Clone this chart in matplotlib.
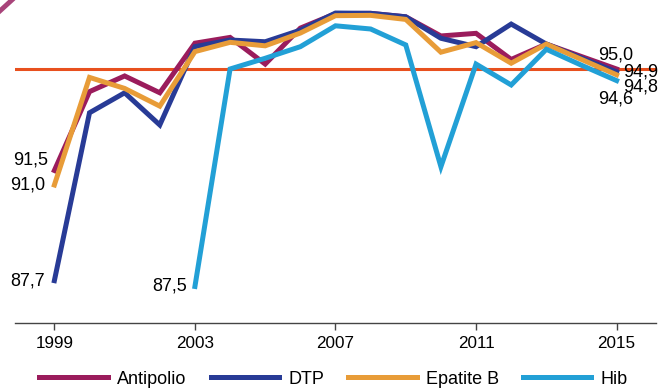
import numpy as np
import matplotlib.pyplot as plt
from matplotlib.lines import Line2D

plt.rcParams['font.family'] = ['Liberation Sans', 'DejaVu Sans']

years = np.arange(1999, 2016)
antipolio = [91.5, 94.22, 94.76, 94.18, 95.89, 96.09, 95.17, 96.41, 96.91, 96.92,
             96.8, 96.14, 96.23, 95.33, 95.86, 95.43, 95.0]
dtp = [87.7, 93.49, 94.18, 93.07, 95.77, 96.0, 95.94, 96.34, 96.93, 96.92,
       96.8, 96.06, 95.77, 96.55, 95.86, 95.38, 94.9]
epatite_b = [91.0, 94.71, 94.33, 93.72, 95.6, 95.92, 95.8, 96.24, 96.84, 96.85,
             96.71, 95.58, 95.91, 95.2, 95.86, 95.33, 94.8]
hib = [np.nan, np.nan, np.nan, np.nan, 87.5, 95.0, 95.37, 95.77, 96.49, 96.38,
       95.83, 91.63, 95.17, 94.45, 95.68, 95.13, 94.6]
target = 95

names = ['Antipolio', 'DTP', 'Epatite B', 'Hib']
colors = ['#9b1c5c', '#283b96', '#e89c38', '#22a0d6']
series = [antipolio, dtp, epatite_b, hib]

fig = plt.figure(figsize=(6.61, 3.88), dpi=100)
ax = fig.add_axes([0.0227, 0.1668, 0.9697, 0.8332])

ax.axhline(target, color='#e8501e', lw=2.2, zorder=1)

for name, col, vals in zip(names, colors, series):
    ax.plot(years, vals, color=col, lw=3.6, label=name, solid_joinstyle='miter', zorder=2)

ax.set_xlim(1997.88, 2016.12)
ax.set_ylim(86.23, 97.38)

for s in ['top', 'right', 'left']:
    ax.spines[s].set_visible(False)
ax.spines['bottom'].set_color('#444444')
ax.spines['bottom'].set_linewidth(1.0)
ax.set_yticks([])
ax.set_xticks([1999, 2003, 2007, 2011, 2015])
ax.tick_params(axis='x', length=5, width=1, color='#444444', labelsize=12.3, pad=4)

def fmt(v):
    return f'{v:.1f}'.replace('.', ',')

lab = dict(textcoords='offset points', va='center', fontsize=13, annotation_clip=False)

# start labels
ax.annotate(fmt(antipolio[0]), (years[0], antipolio[0]), xytext=(-4.3, 7.7), ha='right', **lab)
ax.annotate(fmt(epatite_b[0]), (years[0], epatite_b[0]), xytext=(-6.5, 0), ha='right', **lab)
ax.annotate(fmt(dtp[0]), (years[0], dtp[0]), xytext=(-7, 0), ha='right', **lab)
ax.annotate(fmt(hib[4]), (years[4], hib[4]), xytext=(-5.8, 0), ha='right', **lab)

# end labels
ax.annotate(fmt(antipolio[-1]), (years[-1], antipolio[-1]), xytext=(-13.4, 10), ha='left', **lab)
ax.annotate(fmt(dtp[-1]), (years[-1], dtp[-1]), xytext=(4.6, 0), ha='left', **lab)
ax.annotate(fmt(epatite_b[-1]), (years[-1], epatite_b[-1]), xytext=(4.6, -8.8), ha='left', **lab)
ax.annotate(fmt(hib[-1]), (years[-1], hib[-1]), xytext=(-13.4, -13.3), ha='left', **lab)

fig.legend(loc='center', bbox_to_anchor=(0.5046, 0.023), ncol=4, frameon=False,
           fontsize=13, handlelength=3.8, handletextpad=0.5, columnspacing=1.33)

# small stray stroke at the top-left corner
fig.add_artist(Line2D([0.0, 0.018], [0.972, 1.0], color='#a8447a', lw=3.5, transform=fig.transFigure))

fig.savefig('out.png', dpi=100)
